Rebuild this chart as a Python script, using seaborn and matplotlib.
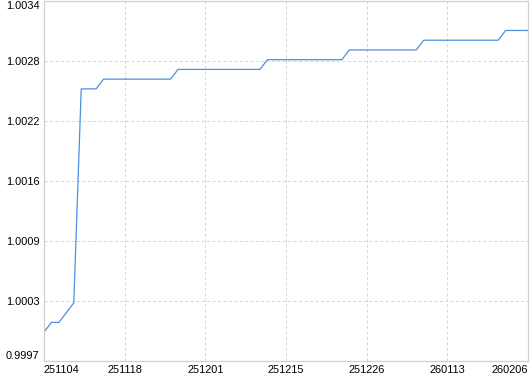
import numpy as np
import pandas as pd
import matplotlib
matplotlib.use("Agg")
import matplotlib.pyplot as plt
import seaborn as sns

# ---- data ----
nav_values = [
    1.0000, 1.0001, 1.0001, 1.0002, 1.0003, 1.0025, 1.0025, 1.0025,
    1.0026, 1.0026, 1.0026, 1.0026, 1.0026, 1.0026, 1.0026, 1.0026, 1.0026, 1.0026,
    1.0027, 1.0027, 1.0027, 1.0027, 1.0027, 1.0027, 1.0027, 1.0027, 1.0027, 1.0027, 1.0027, 1.0027,
    1.0028, 1.0028, 1.0028, 1.0028, 1.0028, 1.0028, 1.0028, 1.0028, 1.0028, 1.0028, 1.0028,
    1.0029, 1.0029, 1.0029, 1.0029, 1.0029, 1.0029, 1.0029, 1.0029, 1.0029, 1.0029,
    1.0030, 1.0030, 1.0030, 1.0030, 1.0030, 1.0030, 1.0030, 1.0030, 1.0030, 1.0030, 1.0030,
    1.0031, 1.0031, 1.0031, 1.0031,
]
x_tick_labels = ["251104", "251118", "251201", "251215", "251226", "260113", "260206"]
y_tick_labels = ["0.9997", "1.0003", "1.0009", "1.0016", "1.0022", "1.0028", "1.0034"]
y_min, y_max = 0.9997, 1.0034

df = pd.DataFrame({"idx": np.arange(len(nav_values)), "nav": nav_values})

sns.set_theme(style="white")
plt.rcParams["font.family"] = ["Liberation Sans", "DejaVu Sans"]

fig = plt.figure(figsize=(5.30, 3.74), dpi=100)
ax = fig.add_axes([44 / 530, 1 - 361.3 / 374, (528 - 44) / 530, (361.3 - 1.3) / 374])

sns.lineplot(data=df, x="idx", y="nav", ax=ax, color="#4a8fe0", linewidth=0.9)

n = len(nav_values)
ax.set_xlim(0, n - 1)
ax.set_ylim(y_min, y_max)

xt = np.linspace(0, n - 1, len(x_tick_labels))
yt = np.linspace(y_min, y_max, len(y_tick_labels))
ax.set_xticks(xt)
ax.set_xticklabels(x_tick_labels)
ax.set_yticks(yt)
ax.set_yticklabels(y_tick_labels)

ax.set_xlabel("")
ax.set_ylabel("")

ax.grid(True, color="#d8d8d8", linestyle=(0, (3, 2.2)), linewidth=0.75)
ax.set_axisbelow(True)

for s in ax.spines.values():
    s.set_color("#d0d0d0")
    s.set_linewidth(0.9)

ax.tick_params(axis="both", length=0, labelsize=7.9, colors="#000000")
ax.tick_params(axis="y", pad=3.2)
ax.tick_params(axis="x", pad=2.4)

xl = ax.get_xticklabels()
xl[0].set_horizontalalignment("left")
xl[-1].set_horizontalalignment("right")
yl = ax.get_yticklabels()
yl[0].set_verticalalignment("bottom")
yl[-1].set_verticalalignment("top")

fig.savefig("out.png", dpi=100)
